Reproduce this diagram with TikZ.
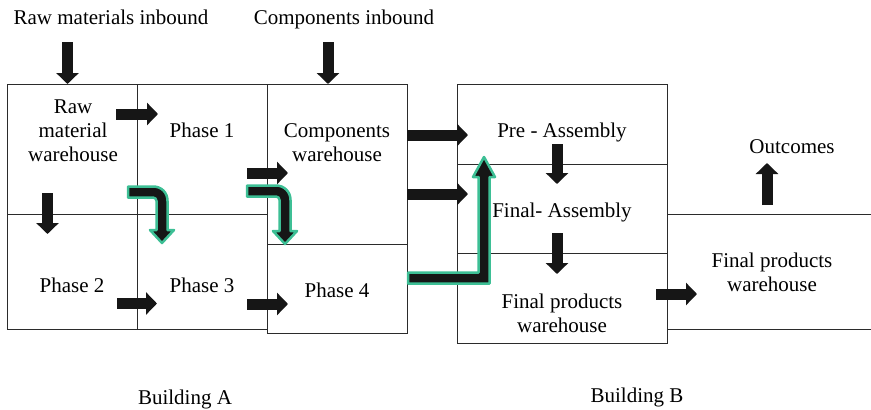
\documentclass[tikz,border=0pt]{standalone}
\usepackage{fontspec}
\setmainfont{Liberation Serif}
\newfontfamily\timesfam{Liberation Serif}
\usetikzlibrary{arrows.meta}
\definecolor{edge}{HTML}{2B2B2B}
\definecolor{ink}{HTML}{161616}
\definecolor{mint}{HTML}{3DBF95}
\tikzset{
  room/.style={draw=edge, line width=1pt, inner sep=0pt, anchor=north west},
  lbl/.style={font=\timesfam\fontsize{21}{24}\selectfont, align=center, anchor=base, inner sep=0pt},
  blk/.style={draw=ink, line width=11pt, -{Triangle[length=11pt,width=22pt]}},
  outl/.style={fill=ink, draw=mint, line width=2.5pt, line join=round},
  wall/.style={draw=edge, line width=1pt},
}
\begin{document}
\begin{tikzpicture}[x=1pt, y=-1pt]
\useasboundingbox (0,0) rectangle (871,410);
% rooms of building A
\node[room, minimum width=130pt, minimum height=130pt] (rawbox) at (7,84) {};
\node[room, minimum width=130pt, minimum height=130pt] (ph1box) at (137,84) {};
\node[room, minimum width=130pt, minimum height=115pt] (ph2box) at (7,214) {};
\node[room, minimum width=130pt, minimum height=115pt] (ph3box) at (137,214) {};
\node[room, minimum width=140pt, minimum height=160pt] (compbox) at (267,84) {};
\node[room, minimum width=140pt, minimum height=89pt] (ph4box) at (267,244) {};
% rooms of building B
\node[room, minimum width=210pt, minimum height=80pt] (prebox) at (457,84) {};
\node[room, minimum width=210pt, minimum height=89pt] (finbox) at (457,164) {};
\node[room, minimum width=210pt, minimum height=90pt] (fpwbox) at (457,253) {};
\coordinate (w1a) at (667,214); \coordinate (w1b) at (871,214);
\coordinate (w2a) at (667,329); \coordinate (w2b) at (871,329);
\draw[wall] (w1a) -- (w1b);
\draw[wall] (w2a) -- (w2b);
% labels (base anchor = baseline of last line)
\node[lbl] (rawin) at (111,24) {Raw materials inbound};
\node[lbl] (compin) at (344,24) {Components inbound};
\node[lbl] (rawwh) at (73,161) {Raw\\material\\warehouse};
\node[lbl] (ph1) at (202,137) {Phase 1};
\node[lbl] (ph2) at (72,292) {Phase 2};
\node[lbl] (ph3) at (202,292) {Phase 3};
\node[lbl] (compwh) at (337,161) {Components\\warehouse};
\node[lbl] (ph4) at (337,297) {Phase 4};
\node[lbl] (pre) at (562,137) {Pre - Assembly};
\node[lbl] (fin) at (562,217) {Final- Assembly};
\node[lbl] (fpw) at (562,332) {Final products\\warehouse};
\node[lbl] (out) at (792,153) {Outcomes};
\node[lbl] (fpw2) at (772,291) {Final products\\warehouse};
\node[lbl] (bA) at (185,404) {Building A};
\node[lbl] (bB) at (637,402) {Building B};
% straight block arrows
\coordinate (a1s) at (67.5,42);  \coordinate (a1e) at (67.5,84);
\coordinate (a2s) at (328,42);   \coordinate (a2e) at (328,84);
\coordinate (a3s) at (116,114);  \coordinate (a3e) at (158,114);
\coordinate (a4s) at (47.5,193); \coordinate (a4e) at (47.5,234);
\coordinate (a5s) at (117,303.5);\coordinate (a5e) at (157,303.5);
\coordinate (a6s) at (247,173);  \coordinate (a6e) at (288,173);
\coordinate (a7s) at (247,304);  \coordinate (a7e) at (288,304);
\coordinate (a8s) at (407,135);  \coordinate (a8e) at (468,135);
\coordinate (a9s) at (407,194);  \coordinate (a9e) at (468,194);
\coordinate (a10s) at (557,144); \coordinate (a10e) at (557,184);
\coordinate (a11s) at (557,233); \coordinate (a11e) at (557,274);
\coordinate (a12s) at (656,294); \coordinate (a12e) at (697,294);
\coordinate (a13s) at (767,205); \coordinate (a13e) at (767,163);
\foreach \i in {1,...,13} \draw[blk] (a\i s) -- (a\i e);
% outlined arrows
\draw[outl] (128,186.5) -- (153,186.5) .. controls (161.5,186.5) and (167.5,192.5) .. (167.5,201)
  -- (167.5,230) -- (174,230) -- (162,243) -- (150,230) -- (156.5,230) -- (156.5,201)
  .. controls (156.5,199) and (155,197.5) .. (153,197.5) -- (128,197.5) -- cycle;
\draw[outl] (247,185.5) -- (276,185.5) .. controls (284,185.5) and (290.5,191.5) .. (290.5,200)
  -- (290.5,231) -- (297,231) -- (285,244) -- (273,231) -- (279.5,231) -- (279.5,200)
  .. controls (279.5,198) and (278,196.5) .. (276,196.5) -- (247,196.5) -- cycle;
\draw[outl] (408,272.5) -- (478.5,272.5) -- (478.5,177) -- (473,177) -- (484,157) -- (495,177)
  -- (489.5,177) -- (489.5,283.5) -- (408,283.5) -- cycle;
\end{tikzpicture}
\end{document}
